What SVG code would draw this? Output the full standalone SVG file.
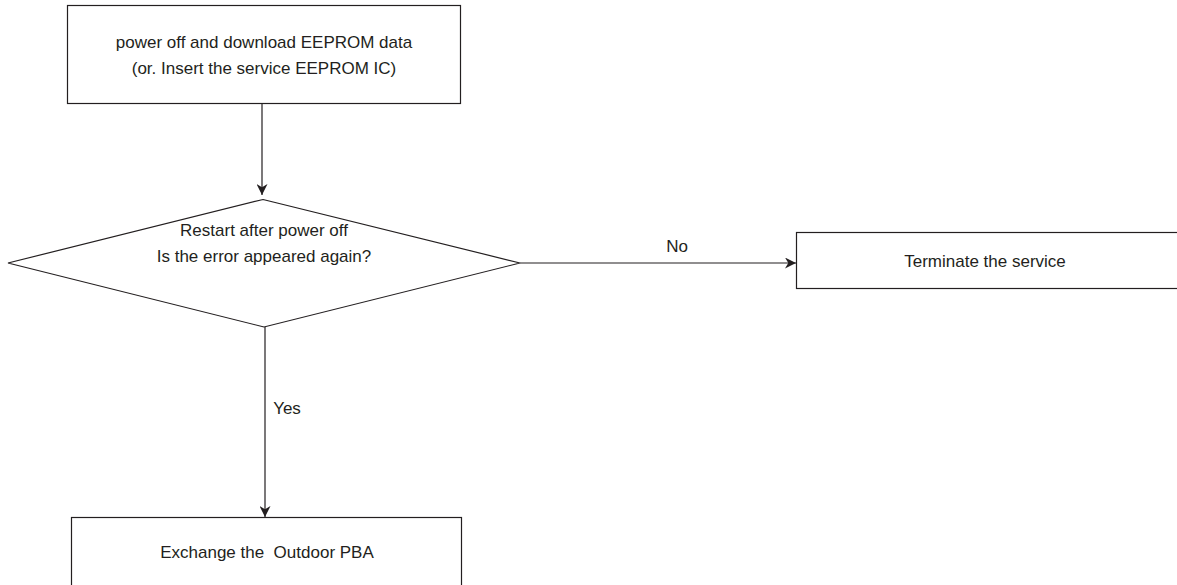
<svg xmlns="http://www.w3.org/2000/svg" width="1177" height="585" viewBox="0 0 1177 585">
<style>
.box{fill:#fff;stroke:#231f20;stroke-width:1.2}
.t{font-family:"Liberation Sans",Arial,sans-serif;font-size:17px;fill:#231f20;text-anchor:middle;white-space:pre}
.c{stroke:#231f20;stroke-width:1.2;fill:none}
</style>
<defs>
<marker id="ah" viewBox="0 0 10 10" refX="10" refY="5" markerWidth="11" markerHeight="11" markerUnits="userSpaceOnUse" orient="auto">
<path d="M0,0 L10,5 L0,10 L3,5 Z" fill="#231f20"/>
</marker>
</defs>
<rect width="1177" height="585" fill="#fff"/>
<g id="n1">
<rect class="box" x="67.5" y="5.5" width="393" height="98"/>
<text class="t" x="264" y="48">power off and download EEPROM data</text>
<text class="t" x="264" y="74">(or. Insert the service EEPROM IC)</text>
</g>
<g id="n2">
<polygon class="box" points="263,199.5 520,263 264,327 8,263"/>
<text class="t" x="264" y="236">Restart after power off</text>
<text class="t" x="264" y="262">Is the error appeared again?</text>
</g>
<g id="n3">
<rect class="box" x="796.5" y="232.5" width="390" height="56"/>
<text class="t" x="985" y="267">Terminate the service</text>
</g>
<g id="n4">
<rect class="box" x="71.5" y="517.5" width="390" height="80"/>
<text class="t" x="267" y="558" xml:space="preserve">Exchange the  Outdoor PBA</text>
</g>
<g id="connectors">
<line class="c" x1="262" y1="104" x2="262" y2="195" marker-end="url(#ah)"/>
<line class="c" x1="520" y1="263" x2="796" y2="263" marker-end="url(#ah)"/>
<line class="c" x1="265" y1="327" x2="265" y2="517" marker-end="url(#ah)"/>
<text class="t" x="677" y="252">No</text>
<text class="t" x="287" y="414">Yes</text>
</g>
</svg>
